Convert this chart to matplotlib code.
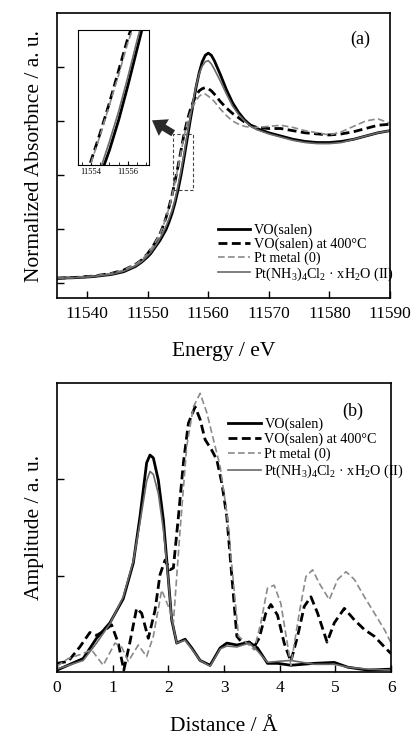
import matplotlib
matplotlib.use("Agg")
import matplotlib.pyplot as plt
from matplotlib.patches import Rectangle
from matplotlib.ticker import ScalarFormatter

plt.rcParams['font.family'] = ['Liberation Serif', 'DejaVu Serif']
plt.rcParams['mathtext.fontset'] = 'custom'
plt.rcParams['mathtext.rm'] = 'Liberation Serif'
plt.rcParams['mathtext.it'] = 'Liberation Serif:italic'

# ---------------- (a) XANES data ----------------
energy = [11535, 11538, 11541, 11544, 11546, 11548, 11549, 11550, 11550.5, 11551, 11551.5,
          11552, 11552.5, 11553, 11553.5, 11554, 11554.5, 11555, 11555.5, 11556, 11556.5,
          11557, 11557.5, 11558, 11558.5, 11559, 11559.5, 11560, 11560.5, 11561, 11562,
          11563, 11564, 11565, 11566, 11567, 11568, 11570, 11572, 11574, 11576, 11578,
          11580, 11582, 11584, 11586, 11588, 11590]
xanes_vo = [0.04, 0.045, 0.055, 0.075, 0.10, 0.15, 0.19, 0.24, 0.27, 0.31, 0.35, 0.39, 0.44,
            0.49, 0.56, 0.64, 0.74, 0.86, 1.00, 1.16, 1.33, 1.50, 1.66, 1.82, 1.95, 2.05, 2.11,
            2.13, 2.11, 2.06, 1.93, 1.79, 1.67, 1.58, 1.51, 1.46, 1.43, 1.39, 1.36, 1.33, 1.31,
            1.30, 1.30, 1.31, 1.33, 1.36, 1.39, 1.41]
xanes_vo400 = [0.04, 0.047, 0.06, 0.085, 0.115, 0.17, 0.21, 0.27, 0.31, 0.35, 0.40, 0.45, 0.52,
               0.60, 0.70, 0.81, 0.94, 1.08, 1.23, 1.38, 1.50, 1.60, 1.68, 1.74, 1.78, 1.80, 1.81,
               1.80, 1.78, 1.75, 1.68, 1.62, 1.57, 1.53, 1.49, 1.46, 1.44, 1.43, 1.43, 1.41, 1.39,
               1.38, 1.37, 1.38, 1.40, 1.43, 1.46, 1.47]
xanes_ptmetal = [0.04, 0.047, 0.06, 0.085, 0.115, 0.17, 0.21, 0.27, 0.31, 0.35, 0.40, 0.45, 0.52,
                 0.60, 0.69, 0.80, 0.93, 1.07, 1.21, 1.36, 1.48, 1.57, 1.64, 1.69, 1.73, 1.75, 1.75,
                 1.73, 1.71, 1.68, 1.61, 1.55, 1.50, 1.47, 1.45, 1.44, 1.44, 1.45, 1.46, 1.44, 1.41,
                 1.39, 1.37, 1.40, 1.45, 1.50, 1.52, 1.48]
xanes_ptnh3 = [0.04, 0.045, 0.056, 0.077, 0.105, 0.155, 0.195, 0.25, 0.28, 0.32, 0.36, 0.41, 0.46,
               0.52, 0.59, 0.67, 0.77, 0.90, 1.04, 1.20, 1.37, 1.53, 1.69, 1.83, 1.94, 2.01, 2.05,
               2.06, 2.03, 1.98, 1.87, 1.75, 1.64, 1.56, 1.50, 1.45, 1.42, 1.38, 1.35, 1.32, 1.30,
               1.29, 1.29, 1.30, 1.33, 1.36, 1.39, 1.41]

# ---------------- (b) FT data ----------------
r_vo = [0, 0.47, 0.71, 0.95, 1.19, 1.37, 1.49, 1.61, 1.67, 1.73, 1.82, 1.91, 2.00, 2.06, 2.15,
        2.30, 2.42, 2.57, 2.75, 2.93, 3.05, 3.23, 3.45, 3.60, 3.78, 3.96, 4.20, 4.62, 4.98,
        5.22, 5.58, 6.0]
ft_vo = [0.02, 0.14, 0.35, 0.51, 0.76, 1.13, 1.61, 2.17, 2.25, 2.22, 1.99, 1.58, 0.96, 0.54,
         0.30, 0.34, 0.25, 0.12, 0.07, 0.25, 0.30, 0.28, 0.31, 0.25, 0.09, 0.09, 0.07, 0.09,
         0.10, 0.05, 0.02, 0.03]
ft_ptnh3 = [0.03, 0.12, 0.30, 0.50, 0.78, 1.15, 1.55, 1.98, 2.08, 2.05, 1.85, 1.48, 0.95, 0.55,
            0.30, 0.33, 0.24, 0.12, 0.06, 0.24, 0.27, 0.26, 0.30, 0.22, 0.10, 0.11, 0.12, 0.08,
            0.08, 0.05, 0.03, 0.02]
r_vo400 = [0, 0.2, 0.41, 0.59, 0.71, 0.83, 0.98, 1.10, 1.20, 1.31, 1.43, 1.52, 1.64, 1.76, 1.85,
           1.94, 2.03, 2.09, 2.18, 2.27, 2.36, 2.48, 2.57, 2.66, 2.78, 2.87, 2.96, 3.05, 3.14,
           3.23, 3.33, 3.45, 3.54, 3.63, 3.75, 3.84, 3.96, 4.08, 4.20, 4.32, 4.44, 4.56, 4.68,
           4.85, 4.98, 5.16, 5.34, 5.52, 5.70, 5.88, 6.0]
ft_vo400 = [0.09, 0.11, 0.26, 0.41, 0.38, 0.42, 0.49, 0.30, 0.02, 0.31, 0.66, 0.61, 0.35, 0.64,
            1.01, 1.16, 1.06, 1.08, 1.61, 2.17, 2.58, 2.75, 2.62, 2.41, 2.30, 2.20, 1.96, 1.61,
            0.99, 0.37, 0.30, 0.31, 0.26, 0.35, 0.61, 0.70, 0.59, 0.30, 0.11, 0.37, 0.68, 0.78,
            0.61, 0.31, 0.51, 0.66, 0.54, 0.44, 0.37, 0.26, 0.19]
r_ptmetal = [0, 0.2, 0.41, 0.62, 0.83, 1.04, 1.16, 1.28, 1.46, 1.61, 1.73, 1.88, 2.00, 2.09,
             2.21, 2.33, 2.45, 2.57, 2.69, 2.81, 2.93, 3.05, 3.17, 3.26, 3.39, 3.54, 3.66, 3.78,
             3.90, 4.02, 4.20, 4.35, 4.47, 4.59, 4.71, 4.89, 5.04, 5.19, 5.34, 5.52, 5.70, 5.88, 6.0]
ft_ptmetal = [0.06, 0.14, 0.18, 0.23, 0.07, 0.30, 0.26, 0.11, 0.28, 0.16, 0.37, 0.85, 0.68, 0.51,
              1.47, 2.34, 2.75, 2.89, 2.69, 2.41, 2.13, 1.65, 0.92, 0.37, 0.31, 0.23, 0.51, 0.87,
              0.90, 0.71, 0.07, 0.61, 0.99, 1.06, 0.92, 0.75, 0.96, 1.04, 0.96, 0.78, 0.61, 0.44, 0.30]

labels = ['VO(salen)', 'VO(salen) at 400°C', 'Pt metal (0)',
          r'Pt(NH$_3$)$_4$Cl$_2$ · xH$_2$O (II)']
energy_ticks = [11540, 11550, 11560, 11570, 11580, 11590]
inset_ticks = [11554, 11556]
dist_ticks = [0, 1, 2, 3, 4, 5, 6]

styles = [dict(color='black', lw=2.0, ls='-'),
          dict(color='black', lw=2.0, ls=(0, (3.2, 1.6))),
          dict(color='#8a8a8a', lw=1.2, ls=(0, (4, 2))),
          dict(color='#6a6a6a', lw=1.2, ls='-')]

fig = plt.figure(figsize=(4.13, 7.38), dpi=100)

# ---------- panel (a) ----------
ax1 = fig.add_axes([0.138, 0.596, 0.806, 0.386])
series_a = [xanes_vo, xanes_vo400, xanes_ptmetal, xanes_ptnh3]
for ys, st, lab in zip(series_a, styles, labels):
    ax1.plot(energy, ys, label=lab, **st)
ax1.set_xlim(11535, 11590)
ax1.set_ylim(-0.145, 2.5)
ax1.set_xticks(energy_ticks)
ax1.set_yticks([0, 0.5, 1.0, 1.5, 2.0])
ax1.set_yticklabels([])
ax1.tick_params(direction='in', length=5, width=1, labelsize=12.5, pad=6)
ax1.set_xlabel('Energy / eV', fontsize=15.5, labelpad=14)
ax1.set_ylabel('Normalized Absorbnce / a. u.', fontsize=15.5, labelpad=3)
for s in ax1.spines.values():
    s.set_linewidth(1.2)
ax1.text(0.91, 0.91, '(a)', transform=ax1.transAxes, fontsize=13, ha='center', va='center')
ax1.legend(loc='lower left', bbox_to_anchor=(0.47, 0.04), frameon=False, fontsize=10.2,
           handlelength=2.3, handletextpad=0.25, labelspacing=0.02, borderpad=0.1,
           borderaxespad=0.2)

# zoom rectangle and arrow
ax1.add_patch(Rectangle((11554.2, 0.86), 3.3, 0.52, fill=False, ls=(0, (3, 2)),
                        lw=0.8, ec='#444444'))
ax1.annotate('', xy=(11550.7, 1.506), xytext=(11554.2, 1.386),
             arrowprops=dict(width=5, headwidth=14, headlength=10, shrink=0.0,
                             color='#2a2a2a', lw=0))

# inset
axin = fig.add_axes([0.189, 0.776, 0.172, 0.184])
for ys, st in zip(series_a, styles):
    axin.plot(energy, ys, **st)
axin.set_xlim(11553.3, 11557.15)
axin.set_ylim(0.79, 1.42)
fmt = ScalarFormatter(useOffset=False)
axin.xaxis.set_major_formatter(fmt)
axin.set_xticks(inset_ticks)
axin.set_xticks([11553.5, 11554.5, 11555, 11555.5, 11556.5, 11557], minor=True)
axin.set_yticks([])
axin.tick_params(axis='x', which='both', direction='in', labelsize=6, pad=2, length=3)
axin.tick_params(axis='x', which='minor', length=2)
for s in axin.spines.values():
    s.set_linewidth(0.8)

# ---------- panel (b) ----------
ax2 = fig.add_axes([0.138, 0.0894, 0.809, 0.392])
series_b = [(r_vo, ft_vo), (r_vo400, ft_vo400), (r_ptmetal, ft_ptmetal), (r_vo, ft_ptnh3)]
for (xs, ys), st, lab in zip(series_b, styles, labels):
    ax2.plot(xs, ys, label=lab, **st)
ax2.set_xlim(0, 6)
ax2.set_ylim(0, 3)
ax2.set_xticks(dist_ticks)
ax2.set_yticks([1, 2])
ax2.set_yticklabels([])
ax2.tick_params(direction='in', length=5, width=1, labelsize=12.5, pad=6)
ax2.set_xlabel('Distance / Å', fontsize=15.5, labelpad=15)
ax2.set_ylabel('Amplitude / a. u.', fontsize=15.5, labelpad=3)
for s in ax2.spines.values():
    s.set_linewidth(1.2)
ax2.text(0.885, 0.90, '(b)', transform=ax2.transAxes, fontsize=13, ha='center', va='center')
ax2.legend(loc='upper left', bbox_to_anchor=(0.5, 0.895), frameon=False, fontsize=10.2,
           handlelength=2.3, handletextpad=0.25, labelspacing=0.12, borderpad=0.1,
           borderaxespad=0.2)

fig.savefig('out.png', dpi=100)
